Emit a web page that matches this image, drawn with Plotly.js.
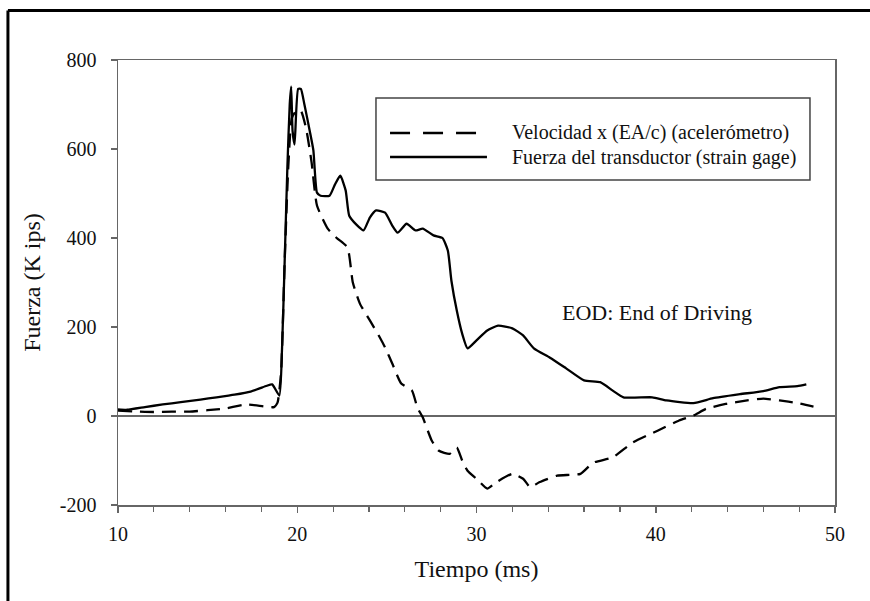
<!DOCTYPE html>
<html>
<head>
<meta charset="utf-8">
<script src="https://cdn.plot.ly/plotly-3.0.1.min.js"></script>
<style>
html,body{margin:0;padding:0;background:#fff;}
#chart{width:870px;height:601px;}
</style>
</head>
<body>
<div id="chart"></div>
<script>
// Fuerza del transductor (strain gage)
var fuerzaT = [10, 10.5, 11.5, 12.5, 13.5, 14.6, 15.5, 16.5, 17.4, 17.9, 18.3, 18.6, 19.0, 19.15, 19.3, 19.45, 19.58, 19.66, 19.74, 19.85, 20.05, 20.2, 20.4, 20.7, 20.9, 21.1, 21.3, 21.8, 22.1, 22.4, 22.7, 22.9, 23.3, 23.7, 24.05, 24.4, 24.9, 25.3, 25.6, 26.1, 26.6, 27.0, 27.6, 28.1, 28.4, 28.6, 28.9, 29.2, 29.5, 30.0, 30.6, 31.2, 32.0, 32.6, 33.2, 34.1, 35.0, 36.0, 36.9, 37.6, 38.2, 39.8, 40.6, 42.1, 43.2, 44.7, 46.0, 46.9, 47.9, 48.4];
var fuerzaV = [15, 14, 20, 26, 31, 37, 42, 48, 55, 62, 68, 71, 46, 150, 350, 560, 700, 740, 640, 610, 735, 735, 700, 640, 597, 502, 495, 495, 520, 540, 507, 450, 430, 417, 446, 462, 457, 428, 412, 432, 417, 421, 406, 400, 372, 304, 237, 185, 152, 170, 192, 203, 197, 181, 152, 131, 107, 80, 76, 57, 42, 42, 35, 29, 40, 49, 56, 65, 67, 71];

// Velocidad x (EA/c) (acelerómetro)
var velT = [10, 11, 12, 13, 14, 15, 16, 17.2, 18.2, 18.7, 18.9, 19.1, 19.3, 19.5, 19.7, 19.95, 20.2, 20.5, 20.8, 21.1, 21.7, 22.2, 22.8, 23.1, 23.5, 24.05, 24.6, 24.9, 25.3, 25.8, 26.4, 26.7, 27.0, 27.5, 27.9, 28.5, 28.9, 29.2, 29.5, 30.0, 30.6, 31.1, 32.0, 32.6, 33.0, 33.5, 34.5, 35.8, 36.5, 37.6, 38.7, 40.1, 41.3, 42.1, 42.8, 43.9, 45.1, 46.0, 46.9, 47.9, 48.8];
var velV = [12, 10, 9, 10, 10, 13, 17, 26, 21, 20, 30, 100, 350, 560, 670, 686, 686, 645, 570, 473, 421, 400, 379, 300, 252, 215, 177, 154, 118, 73, 57, 19, -3, -55, -78, -85, -71, -100, -123, -141, -163, -149, -130, -141, -160, -149, -134, -130, -105, -93, -60, -33, -10, 1, 16, 27, 35, 39, 35, 29, 21];

var seriesNames = ["Velocidad x (EA/c) (acelerómetro)", "Fuerza del transductor (strain gage)"];
var xTicks = [10, 20, 30, 40, 50];
var yTicks = [-200, 0, 200, 400, 600, 800];

var FONT = "Liberation Serif, Times New Roman, serif";
var TXT = "#111";

var traces = [
  {x: velT, y: velV, type: "scatter", mode: "lines", name: seriesNames[0],
   line: {color: "#000", width: 2.3, dash: "14px,8px", shape: "spline", smoothing: 0.5}, showlegend: false, hoverinfo: "skip"},
  {x: fuerzaT, y: fuerzaV, type: "scatter", mode: "lines", name: seriesNames[1],
   line: {color: "#000", width: 2.3, shape: "spline", smoothing: 0.5}, showlegend: false, hoverinfo: "skip"}
];

var axColor = "#666";
var layout = {
  width: 870, height: 601,
  paper_bgcolor: "#fff", plot_bgcolor: "#fff",
  margin: {l: 118, r: 35, t: 60, b: 96},
  font: {family: FONT, color: TXT, size: 20},
  xaxis: {
    range: [10, 50], tickvals: xTicks, ticktext: xTicks.map(String),
    showgrid: false, zeroline: false,
    showline: true, linecolor: axColor, linewidth: 1.5, mirror: true,
    ticks: "outside", ticklen: 6, tickwidth: 1.5, tickcolor: axColor,
    ticklabelstandoff: 4,
    minor: {dtick: 2, tick0: 10, ticks: "outside", ticklen: 5, tickwidth: 1.2, tickcolor: axColor, showgrid: false},
    tickfont: {family: FONT, size: 20, color: TXT},
    title: {text: "Tiempo (ms)", font: {family: FONT, size: 24, color: TXT}, standoff: 16}
  },
  yaxis: {
    range: [-200, 800], tickvals: yTicks, ticktext: yTicks.map(String),
    showgrid: false, zeroline: true, zerolinecolor: axColor, zerolinewidth: 1.5,
    showline: true, linecolor: axColor, linewidth: 1.5, mirror: true,
    ticks: "outside", ticklen: 6, tickwidth: 1.5, tickcolor: axColor,
    ticklabelstandoff: 10,
    tickfont: {family: FONT, size: 20, color: TXT},
    title: {text: "Fuerza (K ips)", font: {family: FONT, size: 24, color: TXT}, standoff: 12}
  },
  shapes: [
    // outer frame (left & top)
    {type: "line", xref: "paper", yref: "paper", x0: -0.1535, x1: 1.1, y0: 1.1112, y1: 1.1112, line: {color: "#000", width: 3}},
    {type: "line", xref: "paper", yref: "paper", x0: -0.1535, x1: -0.1535, y0: 1.1112, y1: -0.3, line: {color: "#000", width: 3}},
    // legend box
    {type: "rect", xref: "paper", yref: "paper", x0: 0.3598, x1: 0.9651, y0: 0.7303, y1: 0.9146, line: {color: "#444", width: 1.5}, fillcolor: "rgba(0,0,0,0)"},
    {type: "line", xref: "paper", yref: "paper", x0: 0.3794, x1: 0.5146, y0: 0.836, y1: 0.836, line: {color: "#000", width: 2.3, dash: "20px,13px"}},
    {type: "line", xref: "paper", yref: "paper", x0: 0.3794, x1: 0.5146, y0: 0.782, y1: 0.782, line: {color: "#000", width: 2.3}}
  ],
  annotations: [
    {xref: "paper", yref: "paper", x: 0.5467, y: 0.836, xanchor: "left", yanchor: "middle", showarrow: false,
     text: seriesNames[0], font: {family: FONT, size: 20, color: TXT}},
    {xref: "paper", yref: "paper", x: 0.5467, y: 0.782, xanchor: "left", yanchor: "middle", showarrow: false,
     text: seriesNames[1], font: {family: FONT, size: 20, color: TXT}},
    {xref: "x", yref: "y", x: 34.65, y: 233, xanchor: "left", yanchor: "middle", showarrow: false,
     text: "EOD: End of Driving", font: {family: FONT, size: 22, color: TXT}}
  ]
};

Plotly.newPlot("chart", traces, layout, {displayModeBar: false, staticPlot: true});
</script>
</body>
</html>
